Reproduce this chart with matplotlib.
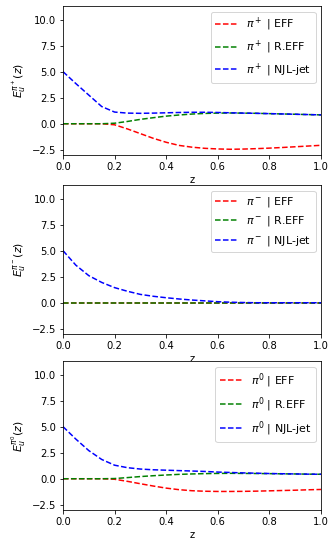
import matplotlib
matplotlib.use("Agg")
import matplotlib.pyplot as plt
import numpy as np

z = [0.0, 0.05, 0.1, 0.15, 0.2, 0.25, 0.3, 0.35, 0.4, 0.45, 0.5,
     0.55, 0.6, 0.65, 0.7, 0.75, 0.8, 0.85, 0.9, 0.95, 1.0]

# pi+
pip_eff = [0.0, 0.0, 0.0, 0.0, -0.1, -0.5, -0.95, -1.4, -1.78, -2.08, -2.25,
           -2.36, -2.42, -2.45, -2.43, -2.39, -2.34, -2.28, -2.21, -2.14, -2.07]
pip_reff = [0.0, 0.0, 0.0, 0.0, 0.05, 0.22, 0.42, 0.58, 0.73, 0.84, 0.93,
            0.99, 1.02, 1.03, 1.02, 1.0, 0.97, 0.94, 0.91, 0.88, 0.85]
pip_njl = [5.0, 3.85, 2.75, 1.65, 1.12, 1.02, 1.0, 1.02, 1.05, 1.08, 1.1,
           1.1, 1.08, 1.05, 1.02, 1.0, 0.97, 0.94, 0.91, 0.88, 0.85]

# pi-
pim_eff = [0.0] * 21
pim_reff = [0.0] * 21
pim_njl = [5.0, 3.6, 2.6, 1.95, 1.45, 1.1, 0.8, 0.62, 0.48, 0.36, 0.26,
           0.18, 0.1, 0.05, 0.02, 0.0, 0.0, 0.0, 0.0, 0.0, 0.0]

# pi0
pi0_eff = [0.0, 0.0, 0.0, 0.0, -0.05, -0.25, -0.48, -0.7, -0.9, -1.05, -1.15,
           -1.2, -1.22, -1.22, -1.21, -1.19, -1.16, -1.13, -1.1, -1.06, -1.03]
pi0_reff = [0.0, 0.0, 0.0, 0.0, 0.02, 0.11, 0.21, 0.29, 0.36, 0.42, 0.46,
            0.49, 0.51, 0.52, 0.51, 0.5, 0.49, 0.47, 0.46, 0.44, 0.43]
pi0_njl = [5.0, 3.8, 2.7, 1.85, 1.3, 1.06, 0.93, 0.86, 0.82, 0.78, 0.74,
           0.7, 0.64, 0.6, 0.56, 0.53, 0.5, 0.48, 0.46, 0.44, 0.43]

labels = [r"$\pi^+$", r"$\pi^-$", r"$\pi^0$"]
ylabels = [r"$E_u^{\pi^+}(z)$", r"$E_u^{\pi^-}(z)$", r"$E_u^{\pi^0}(z)$"]
data = [(pip_eff, pip_reff, pip_njl), (pim_eff, pim_reff, pim_njl), (pi0_eff, pi0_reff, pi0_njl)]

DPI = 72
fig = plt.figure(figsize=(331 / DPI, 543 / DPI), dpi=DPI)
H = 543.0
W = 331.0
tops = [6, 185, 361]
h = 149
for i in range(3):
    ax = fig.add_axes([63 / W, 1 - (tops[i] + h) / H, (321 - 63) / W, h / H])
    eff, reff, njl = data[i]
    ax.plot(z, eff, "r--", label=labels[i] + " | EFF")
    ax.plot(z, reff, "g--", label=labels[i] + " | R.EFF")
    ax.plot(z, njl, "b--", label=labels[i] + " | NJL-jet")
    ax.set_xlim(0, 1)
    ax.set_ylim(-3, 11.3)
    ax.set_yticks([-2.5, 0.0, 2.5, 5.0, 7.5, 10.0])
    ax.set_xlabel("z", labelpad=3)
    ax.set_ylabel(ylabels[i], fontsize=11, labelpad=4)
    ax.legend(loc="upper right", fontsize=11)

fig.savefig("out.png", dpi=DPI)
